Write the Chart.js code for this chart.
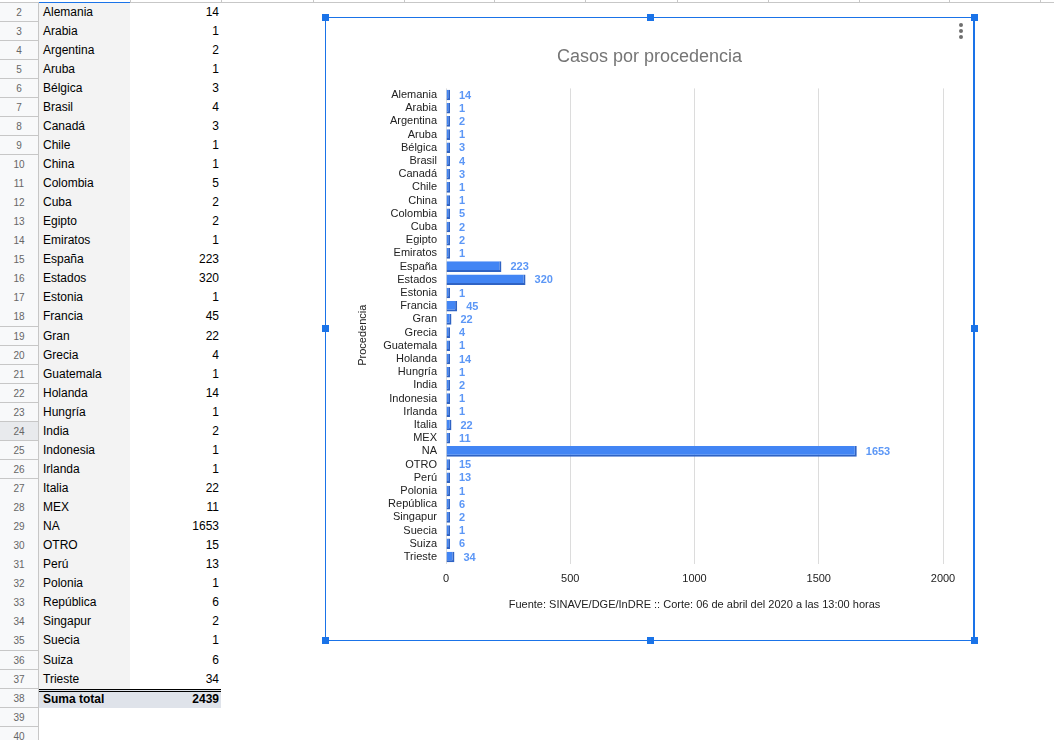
<!DOCTYPE html>
<html>
<head>
<meta charset="utf-8">
<script src="https://cdn.jsdelivr.net/npm/chart.js@4"></script>
<style>
  body { margin: 0; width: 1054px; height: 740px; overflow: hidden; background: #fff; font-family: "Liberation Sans", Arial, sans-serif; position: relative; }
  .abs { position: absolute; box-sizing: border-box; }
  .rowhead { left: 0; width: 39px; background: #f8f9fa; border-right: 1px solid #c7c7c7; border-bottom: 1px solid #c7c7c7; color: #666; font-size: 10px; text-align: center; }
  .cell { font-size: 12px; color: #000; white-space: nowrap; }
  .handle { width: 7px; height: 7px; background: #1a73e8; }
  .dot { width: 4px; height: 4px; border-radius: 50%; background: #6f6f6f; }
</style>
</head>
<body>
<div id="sheet"></div>
<div class="abs" style="left:325px;top:17px;width:650px;height:624px;border:1px solid #1a73e8;border-right-width:2px;"></div>
<div class="abs" style="left:326px;top:18px;width:647px;height:621px;">
  <canvas id="chart"></canvas>
</div>
<div class="abs dot" style="left:959px;top:23px"></div>
<div class="abs dot" style="left:959px;top:29px"></div>
<div class="abs dot" style="left:959px;top:35px"></div>
<div id="handles"></div>
<script>
const categories = ["Alemania", "Arabia", "Argentina", "Aruba", "Bélgica", "Brasil", "Canadá", "Chile", "China",
  "Colombia", "Cuba", "Egipto", "Emiratos", "España", "Estados", "Estonia", "Francia", "Gran", "Grecia",
  "Guatemala", "Holanda", "Hungría", "India", "Indonesia", "Irlanda", "Italia", "MEX", "NA", "OTRO", "Perú",
  "Polonia", "República", "Singapur", "Suecia", "Suiza", "Trieste"];
const casos = [14, 1, 2, 1, 3, 4, 3, 1, 1, 5, 2, 2, 1, 223, 320, 1, 45, 22, 4, 1, 14, 1, 2, 1, 1, 22, 11, 1653,
  15, 13, 1, 6, 2, 1, 6, 34];
const xTicks = [0, 500, 1000, 1500, 2000];
const totalLabel = "Suma total";

// spreadsheet on the left
const sheet = document.getElementById("sheet");
const rowH = 19.06, rowTop = 2.5;
let html = '<div class="abs" style="left:0;top:0;width:1054px;height:3px;border-bottom:1px solid #c7c7c7"></div>';
[130, 221, 313, 404, 494, 585, 677, 768, 859, 949, 1040].forEach(x => {
  html += '<div class="abs" style="left:' + x + 'px;top:0;width:1px;height:3px;background:#c7c7c7"></div>';
});
html += '<div class="abs" style="left:39px;top:2px;width:91px;height:1px;background:#1a73e8"></div>';
for (let r = 2; r <= 40; r++) {
  const top = rowTop + (r - 2) * rowH;
  const bg = r === 24 ? "#e8eaed" : "#f8f9fa";
  html += '<div class="abs rowhead" style="top:' + top + 'px;height:' + (rowH + 0.5) + 'px;line-height:' + rowH + 'px;background:' + bg + '">' + r + '</div>';
}
categories.forEach((c, i) => {
  const top = rowTop + i * rowH;
  html += '<div class="abs" style="left:39px;top:' + top + 'px;width:91px;height:' + (rowH + 0.5) + 'px;background:#f3f3f3"></div>';
  html += '<div class="abs cell" style="left:43px;top:' + top + 'px;line-height:' + rowH + 'px">' + c + '</div>';
  html += '<div class="abs cell" style="left:130px;width:89px;text-align:right;top:' + top + 'px;line-height:' + rowH + 'px">' + casos[i] + '</div>';
});
const tTop = rowTop + categories.length * rowH;
const total = casos.reduce((a, v) => a + v, 0);
html += '<div class="abs" style="left:39px;top:' + tTop + 'px;width:182px;height:' + rowH + 'px;background:#dfe3ea;border-top:3px double #000"></div>';
html += '<div class="abs cell" style="left:43px;top:' + (tTop + 1) + 'px;line-height:' + rowH + 'px;font-weight:bold">' + totalLabel + '</div>';
html += '<div class="abs cell" style="left:130px;width:89px;text-align:right;top:' + (tTop + 1) + 'px;line-height:' + rowH + 'px;font-weight:bold">' + total + '</div>';
sheet.innerHTML = html;

// chart selection handles
let hs = "";
[[325, 17], [650, 17], [974, 17], [325, 328], [974, 328], [325, 640], [650, 640], [974, 640]].forEach(p => {
  hs += '<div class="abs handle" style="left:' + (p[0] - 3) + 'px;top:' + (p[1] - 3) + 'px"></div>';
});
document.getElementById("handles").innerHTML = hs;

// value labels next to the bars
const valueLabels = {
  id: "valueLabels",
  afterDatasetsDraw(chart) {
    const ctx = chart.ctx;
    const meta = chart.getDatasetMeta(0);
    ctx.save();
    ctx.font = "bold 11px 'Liberation Sans', Arial, sans-serif";
    ctx.fillStyle = "#5c97f6";
    ctx.textAlign = "left";
    ctx.textBaseline = "middle";
    meta.data.forEach((bar, i) => {
      ctx.fillText(String(casos[i]), bar.x + 9, bar.y + 0.5);
    });
    ctx.restore();
  }
};

Chart.defaults.font.family = "'Liberation Sans', Arial, sans-serif";
Chart.defaults.font.size = 11;
Chart.defaults.color = "#222";

new Chart(document.getElementById("chart"), {
  type: "bar",
  data: {
    labels: categories,
    datasets: [{
      label: "Casos",
      data: casos,
      backgroundColor: "#4285f4",
      borderColor: "#2f63c4",
      borderWidth: { bottom: 2, right: 2 },
      borderSkipped: false,
      barPercentage: 0.8,
      categoryPercentage: 1,
      minBarLength: 4
    }]
  },
  options: {
    indexAxis: "y",
    responsive: true,
    maintainAspectRatio: false,
    animation: false,
    layout: { padding: { top: 21, left: 30, right: 30, bottom: 27.4 } },
    plugins: {
      legend: { display: false },
      tooltip: { enabled: false },
      title: {
        display: true,
        text: "Casos por procedencia",
        color: "#757575",
        font: { size: 18, weight: "normal" },
        padding: { top: 7.2, bottom: 20.6 }
      }
    },
    scales: {
      x: {
        min: 0,
        max: 2000,
        afterBuildTicks: (s) => { s.ticks = xTicks.map(v => ({ value: v })); },
        afterFit: (s) => { s.height = 48; },
        grid: { color: "#dcdcdc", drawTicks: false },
        border: { display: false },
        ticks: { padding: 9, color: "#222", callback: (v) => String(v) },
        title: {
          display: true,
          text: "Fuente: SINAVE/DGE/InDRE :: Corte: 06 de abril del 2020 a las 13:00 horas",
          color: "#222",
          padding: 0
        }
      },
      y: {
        afterFit: (s) => { s.width = 90; },
        grid: { display: false, drawTicks: false },
        border: { display: false },
        ticks: { padding: 9, color: "#222", autoSkip: false },
        title: { display: true, text: "Procedencia\u00a0\u00a0\u00a0\u00a0\u00a0\u00a0", color: "#222", padding: 0 }
      }
    }
  },
  plugins: [valueLabels]
});
</script>
</body>
</html>
